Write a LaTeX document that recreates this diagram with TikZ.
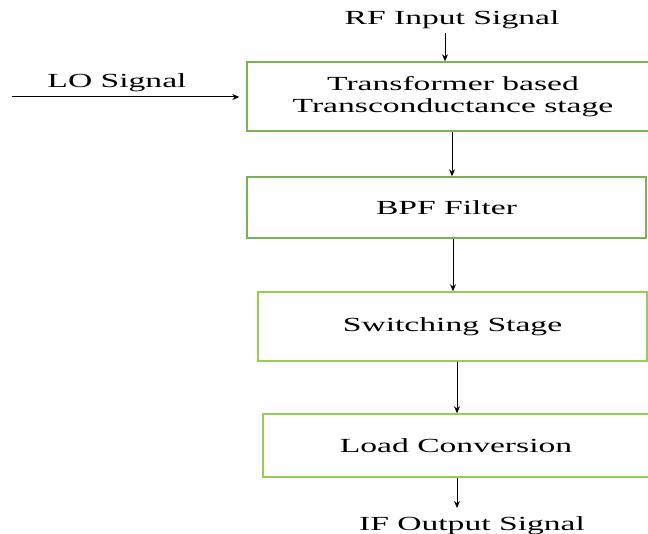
\documentclass[tikz,border=0pt]{standalone}
\usepackage{fontspec}
\setmainfont{Liberation Serif}[FakeStretch=1.68]
\usetikzlibrary{arrows.meta}
\definecolor{gA}{RGB}{120,180,80}
\definecolor{gB}{RGB}{146,208,80}
\begin{document}
\begin{tikzpicture}[x=1pt,y=-1pt,
  every node/.style={font=\fontsize{20}{22}\selectfont, inner sep=0pt},
  blockA/.style={draw=gA, line width=1.4pt, align=center},
  blockB/.style={draw=gB, line width=1.4pt, align=center},
  arr/.style={-{Stealth[length=7pt,width=6pt]}, line width=1pt, black},
  lbl/.style={anchor=base}]
\useasboundingbox (0,0) rectangle (648,534);
\node[blockA, minimum width=412pt, minimum height=69pt] (b1) at (453,96.5) {Transformer based\\Transconductance stage};
\node[blockA, minimum width=399pt, minimum height=61pt] (b2) at (446.5,207.5) {BPF Filter};
\node[blockB, minimum width=389pt, minimum height=69pt] (b3) at (452.5,326.5) {Switching Stage};
\node[blockB, minimum width=386pt, minimum height=63pt] (b4) at (456,445.5) {Load Conversion};
\node[lbl] (rf) at (452,25) {RF Input Signal};
\node[lbl] (lo) at (117,88) {LO Signal};
\node[lbl] (if) at (472,530) {IF Output Signal};
\coordinate (lostart) at (12,97);
\draw[arr] (445,33) -- (b1.north -| 445,0);
\draw[arr] (lostart) -- ([xshift=-7pt]b1.west |- lostart);
\draw[arr] (b1.south -| 452,0) -- (b2.north -| 452,0);
\draw[arr] (b2.south -| 453,0) -- (b3.north -| 453,0);
\draw[arr] (b3.south -| 457,0) -- (b4.north -| 457,0);
\draw[arr] (b4.south -| 457,0) -- (457,508);
\end{tikzpicture}
\end{document}
